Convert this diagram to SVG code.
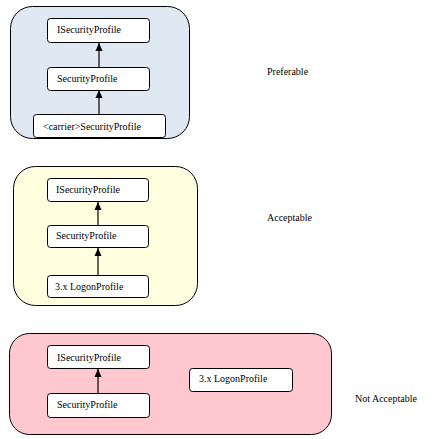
<svg xmlns="http://www.w3.org/2000/svg" width="448" height="439" viewBox="0 0 448 439">
<style>
.grp{stroke:#000;stroke-width:1}
.node{fill:#fff;stroke:#000;stroke-width:1}
.t{font-family:'Liberation Serif','DejaVu Serif','Times New Roman',serif;font-size:10px;fill:#000}
.conn{stroke:#000;stroke-width:1.2;fill:none;marker-end:url(#arr)}
</style>
<defs>
<marker id="arr" viewBox="0 0 8 10" refX="8" refY="5" markerWidth="8" markerHeight="10" markerUnits="userSpaceOnUse" orient="auto">
<path d="M0,1.5 L8,5 L0,8.5 Z" fill="#000"/>
</marker>
</defs>
<rect class="grp" x="10.5" y="6.5" width="179" height="132" rx="22" fill="#dfe8f3"/>
<rect class="grp" x="13.5" y="166.5" width="184" height="139" rx="22" fill="#ffffe0"/>
<rect class="grp" x="9.5" y="333.5" width="322" height="101" rx="20" fill="#ffc8d0"/>
<g class="t" font-family="Liberation Serif, serif">
<g id="n1"><rect class="node" x="47.5" y="18.5" width="102" height="24" rx="3"/><text x="57" y="33">ISecurityProfile</text></g>
<g id="n2"><rect class="node" x="47.5" y="67.5" width="102" height="23" rx="3"/><text x="57" y="82">SecurityProfile</text></g>
<g id="n3"><rect class="node" x="33.5" y="114.5" width="132" height="23" rx="3"/><text x="43" y="130">&lt;carrier&gt;SecurityProfile</text></g>
<g id="n4"><rect class="node" x="47.5" y="178.5" width="101" height="23" rx="3"/><text x="56" y="193">ISecurityProfile</text></g>
<g id="n5"><rect class="node" x="47.5" y="225.5" width="101" height="22" rx="3"/><text x="56" y="239">SecurityProfile</text></g>
<g id="n6"><rect class="node" x="47.5" y="275.5" width="101" height="22" rx="3"/><text x="55" y="290">3.x LogonProfile</text></g>
<g id="n7"><rect class="node" x="47.5" y="345.5" width="102" height="23" rx="3"/><text x="57" y="361">ISecurityProfile</text></g>
<g id="n8"><rect class="node" x="47.5" y="393.5" width="102" height="24" rx="3"/><text x="57" y="408">SecurityProfile</text></g>
<g id="n9"><rect class="node" x="189.5" y="368.5" width="103" height="23" rx="3"/><text x="199" y="382">3.x LogonProfile</text></g>
<g id="labels">
<text x="267" y="75">Preferable</text>
<text x="267" y="221">Acceptable</text>
<text x="355" y="402">Not Acceptable</text>
</g>
</g>
<g id="connectors">
<line class="conn" x1="99" y1="67" x2="99" y2="43"/>
<line class="conn" x1="99" y1="114" x2="99" y2="90"/>
<line class="conn" x1="98" y1="225" x2="98" y2="202"/>
<line class="conn" x1="98" y1="275" x2="98" y2="248"/>
<line class="conn" x1="98" y1="393" x2="98" y2="369"/>
</g>
</svg>
